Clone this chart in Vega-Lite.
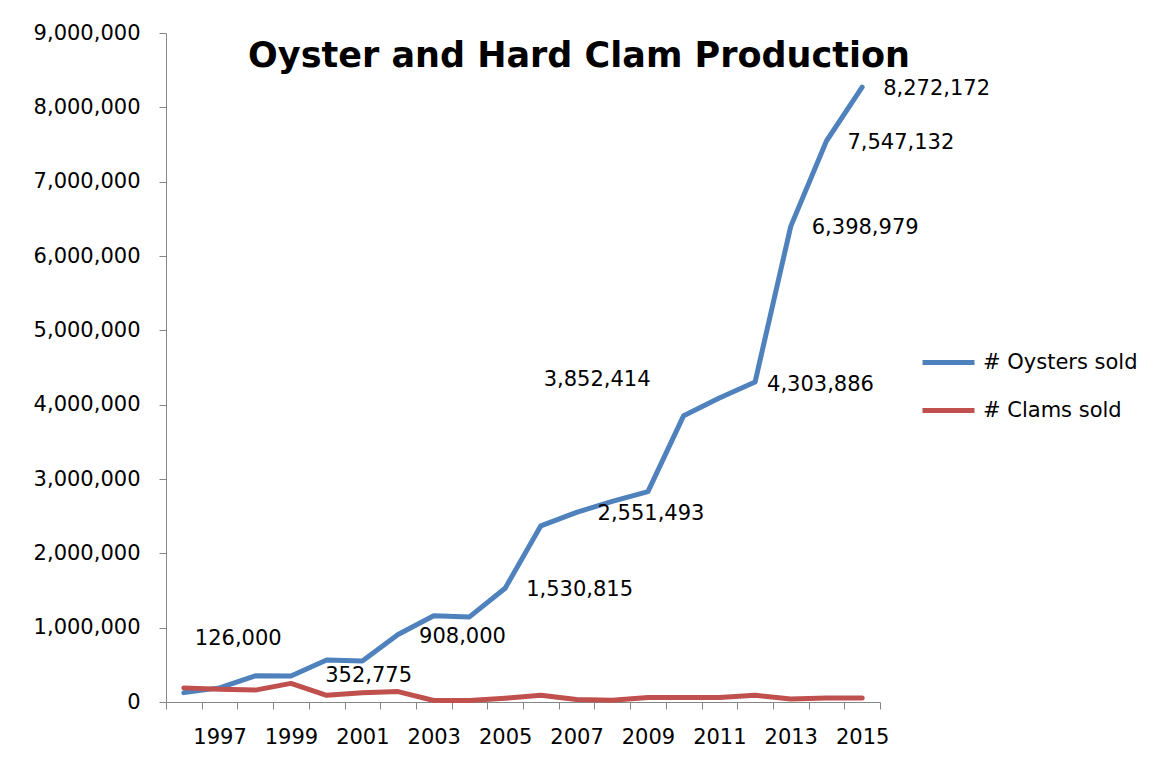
{
  "$schema": "https://vega.github.io/schema/vega-lite/v6.json",
  "width": 714,
  "height": 669,
  "autosize": "none",
  "padding": {"left": 166, "top": 33, "right": 276, "bottom": 65},
  "background": "white",
  "config": {"view": {"stroke": null}, "font": "DejaVu Sans"},
  "title": {
    "text": "Oyster and Hard Clam Production",
    "font": "DejaVu Sans",
    "fontSize": 35,
    "fontWeight": "bold",
    "color": "#000000",
    "anchor": "middle",
    "frame": "group",
    "baseline": "alphabetic",
    "offset": 0,
    "dy": 80,
    "dx": 56
  },
  "data": {
    "values": [
      {"year": 1996, "series": "# Oysters sold", "value": 126000},
      {"year": 1997, "series": "# Oysters sold", "value": 190000},
      {"year": 1998, "series": "# Oysters sold", "value": 352775},
      {"year": 1999, "series": "# Oysters sold", "value": 350000},
      {"year": 2000, "series": "# Oysters sold", "value": 565000},
      {"year": 2001, "series": "# Oysters sold", "value": 550000},
      {"year": 2002, "series": "# Oysters sold", "value": 908000},
      {"year": 2003, "series": "# Oysters sold", "value": 1160000},
      {"year": 2004, "series": "# Oysters sold", "value": 1145000},
      {"year": 2005, "series": "# Oysters sold", "value": 1530815},
      {"year": 2006, "series": "# Oysters sold", "value": 2370000},
      {"year": 2007, "series": "# Oysters sold", "value": 2551493},
      {"year": 2008, "series": "# Oysters sold", "value": 2700000},
      {"year": 2009, "series": "# Oysters sold", "value": 2830000},
      {"year": 2010, "series": "# Oysters sold", "value": 3852414},
      {"year": 2011, "series": "# Oysters sold", "value": 4090000},
      {"year": 2012, "series": "# Oysters sold", "value": 4303886},
      {"year": 2013, "series": "# Oysters sold", "value": 6398979},
      {"year": 2014, "series": "# Oysters sold", "value": 7547132},
      {"year": 2015, "series": "# Oysters sold", "value": 8272172},
      {"year": 1996, "series": "# Clams sold", "value": 190000},
      {"year": 1997, "series": "# Clams sold", "value": 170000},
      {"year": 1998, "series": "# Clams sold", "value": 160000},
      {"year": 1999, "series": "# Clams sold", "value": 250000},
      {"year": 2000, "series": "# Clams sold", "value": 90000},
      {"year": 2001, "series": "# Clams sold", "value": 125000},
      {"year": 2002, "series": "# Clams sold", "value": 140000},
      {"year": 2003, "series": "# Clams sold", "value": 20000},
      {"year": 2004, "series": "# Clams sold", "value": 20000},
      {"year": 2005, "series": "# Clams sold", "value": 50000},
      {"year": 2006, "series": "# Clams sold", "value": 90000},
      {"year": 2007, "series": "# Clams sold", "value": 35000},
      {"year": 2008, "series": "# Clams sold", "value": 25000},
      {"year": 2009, "series": "# Clams sold", "value": 60000},
      {"year": 2010, "series": "# Clams sold", "value": 60000},
      {"year": 2011, "series": "# Clams sold", "value": 60000},
      {"year": 2012, "series": "# Clams sold", "value": 90000},
      {"year": 2013, "series": "# Clams sold", "value": 40000},
      {"year": 2014, "series": "# Clams sold", "value": 55000},
      {"year": 2015, "series": "# Clams sold", "value": 55000}
    ]
  },
  "encoding": {
    "x": {
      "field": "year",
      "type": "quantitative",
      "scale": {"domain": [1995.5, 2015.5], "nice": false, "zero": false},
      "axis": {
        "values": [1995.5, 1996.5, 1997.5, 1998.5, 1999.5, 2000.5, 2001.5, 2002.5, 2003.5, 2004.5, 2005.5, 2006.5, 2007.5, 2008.5, 2009.5, 2010.5, 2011.5, 2012.5, 2013.5, 2014.5, 2015.5],
        "labelExpr": "(datum.value + 0.5) % 2 == 1 ? format(datum.value + 0.5, 'd') : ''",
        "labelOffset": 17.85,
        "tickSize": 7,
        "labelPadding": 17,
        "domainColor": "#868686",
        "tickColor": "#868686",
        "labelFont": "DejaVu Sans",
        "labelFontSize": 21,
        "labelColor": "#000000",
        "labelOverlap": false,
        "labelFlush": false,
        "labelBound": false,
        "grid": false,
        "title": null
      }
    },
    "y": {
      "field": "value",
      "type": "quantitative",
      "scale": {"domain": [0, 9000000], "nice": false},
      "axis": {
        "values": [0, 1000000, 2000000, 3000000, 4000000, 5000000, 6000000, 7000000, 8000000, 9000000],
        "labelExpr": "format(datum.value, ',')",
        "tickSize": 7,
        "labelPadding": 19,
        "domainColor": "#868686",
        "tickColor": "#868686",
        "labelFont": "DejaVu Sans",
        "labelFontSize": 21,
        "labelColor": "#000000",
        "labelOverlap": false,
        "labelFlush": false,
        "grid": false,
        "title": null
      }
    }
  },
  "layer": [
    {
      "mark": {"type": "line", "strokeWidth": 5, "strokeCap": "round", "strokeJoin": "round"},
      "encoding": {
        "color": {
          "field": "series",
          "type": "nominal",
          "scale": {"domain": ["# Oysters sold", "# Clams sold"], "range": ["#4F81BD", "#C0504D"]},
          "legend": {
            "title": null,
            "orient": "none",
            "legendX": 754,
            "legendY": 301,
            "padding": 0,
            "symbolType": "stroke",
            "symbolSize": 2704,
            "symbolStrokeWidth": 5,
            "labelOffset": 6,
            "rowPadding": 9,
            "labelFont": "DejaVu Sans",
            "labelFontSize": 21,
            "labelColor": "#000000",
            "labelLimit": 300
          }
        }
      }
    },
    {
      "transform": [{"filter": "datum.series == '# Oysters sold' && indexof([2002, 2005, 2007, 2013, 2014, 2015], datum.year) >= 0"}],
      "mark": {"type": "text", "align": "left", "baseline": "middle", "dx": 21, "dy": 2, "fontSize": 21, "font": "DejaVu Sans", "color": "#000000"},
      "encoding": {"text": {"field": "value", "type": "quantitative", "format": ","}}
    },
    {
      "transform": [{"filter": "datum.series == '# Oysters sold' && datum.year == 1996"}],
      "mark": {"type": "text", "align": "left", "baseline": "middle", "dx": 11, "dy": -54, "fontSize": 21, "font": "DejaVu Sans", "color": "#000000"},
      "encoding": {"text": {"field": "value", "type": "quantitative", "format": ","}}
    },
    {
      "transform": [{"filter": "datum.series == '# Oysters sold' && datum.year == 1998"}],
      "mark": {"type": "text", "align": "left", "baseline": "middle", "dx": 70, "dy": 0, "fontSize": 21, "font": "DejaVu Sans", "color": "#000000"},
      "encoding": {"text": {"field": "value", "type": "quantitative", "format": ","}}
    },
    {
      "transform": [{"filter": "datum.series == '# Oysters sold' && datum.year == 2010"}],
      "mark": {"type": "text", "align": "left", "baseline": "middle", "dx": -140, "dy": -36, "fontSize": 21, "font": "DejaVu Sans", "color": "#000000"},
      "encoding": {"text": {"field": "value", "type": "quantitative", "format": ","}}
    },
    {
      "transform": [{"filter": "datum.series == '# Oysters sold' && datum.year == 2012"}],
      "mark": {"type": "text", "align": "left", "baseline": "middle", "dx": 12, "dy": 3, "fontSize": 21, "font": "DejaVu Sans", "color": "#000000"},
      "encoding": {"text": {"field": "value", "type": "quantitative", "format": ","}}
    }
  ]
}
